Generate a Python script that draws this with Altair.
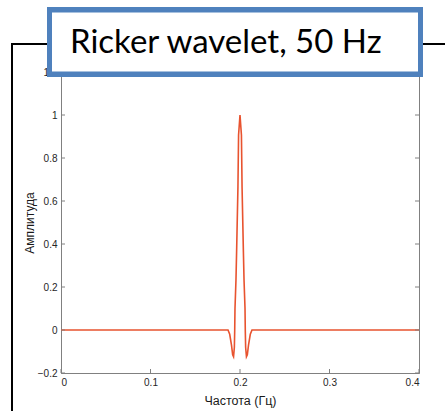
import altair as alt
import pandas as pd

# ---- data ----
freq = [0.0, 0.1866, 0.1885, 0.1905, 0.1918, 0.1928, 0.1937, 0.1941, 0.1944,
        0.1955, 0.1962, 0.1977, 0.1984, 0.2,
        0.2016, 0.2023, 0.2038, 0.2045, 0.2056, 0.2059, 0.2063, 0.2072,
        0.2082, 0.2095, 0.2115, 0.2134, 0.4]
amp = [0.0, 0.0, -0.02, -0.07, -0.115, -0.124, -0.08, 0.0, 0.10,
       0.233, 0.363, 0.665, 0.907, 1.0,
       0.907, 0.665, 0.363, 0.233, 0.10, 0.0, -0.08, -0.124,
       -0.115, -0.07, -0.02, 0.0, 0.0]
x_ticks = [0, 0.1, 0.2, 0.3, 0.4]
y_ticks = [-0.2, 0, 0.2, 0.4, 0.6, 0.8, 1.0, 1.2]
title_text = "Ricker wavelet, 50 Hz"
x_title = "Частота (Гц)"
y_title = "Амплитуда"

W, H = 358, 301
line_color = "#E8532F"
axis_gray = "#808080"
label_color = "#262626"

df = pd.DataFrame({"f": freq, "a": amp})
xt = pd.DataFrame({"f": x_ticks})
yt = pd.DataFrame({"a": y_ticks})

xscale = alt.Scale(domain=[0, 0.4], nice=False, zero=False)
yscale = alt.Scale(domain=[-0.2, 1.2], nice=False, zero=False)

x_axis = alt.Axis(values=x_ticks, format="~g", title=x_title, tickSize=0,
                  labelPadding=4, labelFontSize=10, labelColor=label_color,
                  labelFont="Liberation Sans", titleFont="Liberation Sans",
                  titleFontSize=12.5, titleFontWeight="normal", titleColor="#1a1a1a",
                  titleY=31, titleBaseline="alphabetic",
                  domainColor=axis_gray, grid=False)
y_axis = alt.Axis(values=y_ticks, format="~g", title=y_title, tickSize=0,
                  labelPadding=4, labelFontSize=10, labelColor=label_color,
                  labelFont="Liberation Sans", titleFont="Liberation Sans",
                  titleFontSize=12, titleFontWeight="normal", titleColor="#1a1a1a",
                  titleX=-28, titleY=H / 2, titleAngle=-90, titleBaseline="alphabetic",
                  domainColor=axis_gray, grid=False)

X = alt.X("f:Q", scale=xscale, axis=x_axis)
Y = alt.Y("a:Q", scale=yscale, axis=y_axis)

line = alt.Chart(df).mark_line(color=line_color, strokeWidth=1.6).encode(x=X, y=Y)

tick_style = dict(color=axis_gray, strokeWidth=1)
left_ticks = alt.Chart(yt).mark_rule(**tick_style).encode(
    y=Y, x=alt.value(0), x2=alt.value(4))
right_ticks = alt.Chart(yt).mark_rule(**tick_style).encode(
    y=Y, x=alt.value(W - 4), x2=alt.value(W))
bottom_ticks = alt.Chart(xt).mark_rule(**tick_style).encode(
    x=X, y=alt.value(H - 4), y2=alt.value(H))
top_ticks = alt.Chart(xt).mark_rule(**tick_style).encode(
    x=X, y=alt.value(0), y2=alt.value(4))

# slide decoration: bracket lines and title box
frame_v = alt.Chart(df).mark_rule(color="black", strokeWidth=2).encode(
    x=alt.value(-49), y=alt.value(-28), y2=alt.value(345))
frame_hl = alt.Chart(df).mark_rule(color="black", strokeWidth=2).encode(
    x=alt.value(-50), x2=alt.value(-14), y=alt.value(-28))
frame_hr = alt.Chart(df).mark_rule(color="black", strokeWidth=2).encode(
    x=alt.value(360), x2=alt.value(400), y=alt.value(-28))
box = alt.Chart(df).mark_rect(fill="white", stroke="#4F81BD", strokeWidth=5).encode(
    x=alt.value(-11.5), x2=alt.value(359.5), y=alt.value(-62), y2=alt.value(2))
title = alt.Chart(pd.DataFrame({"t": [title_text]})).mark_text(
    font="Lato", fontSize=33, color="black", align="left", baseline="alphabetic"
).encode(text="t:N", x=alt.value(9), y=alt.value(-19))

chart = alt.layer(
    line, left_ticks, right_ticks, bottom_ticks, top_ticks,
    frame_v, frame_hl, frame_hr, box, title
).properties(
    width=W, height=H,
    autosize=alt.AutoSizeParams(type="none"),
    padding={"left": 61, "top": 72, "right": 26, "bottom": 38},
    background="white",
).configure_view(stroke=axis_gray, strokeWidth=1)

chart.save("out.html", embed_options={"renderer": "svg", "actions": False})
